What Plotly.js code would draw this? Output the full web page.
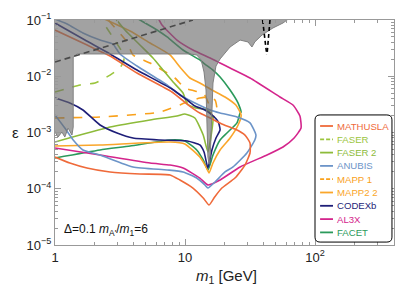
<!DOCTYPE html>
<html><head><meta charset="utf-8">
<script src="https://cdn.plot.ly/plotly-3.0.1.min.js"></script>
<style>html,body{margin:0;padding:0;background:#fff}#c{width:399px;height:290px}</style>
</head><body><div id="c"></div>
<script>
// ---- data (m1 in GeV, epsilon) ----
const names = ["MATHUSLA","FASER","FASER 2","ANUBIS","MAPP 1","MAPP2 2","CODEXb","AL3X","FACET"];
const colors = ["#EF6A3A","#9BC53D","#8DBB3A","#6C94C8","#F9A11B","#FAA62A","#1E1E78","#D4258C","#2B9A5B"];
const dashes = ["solid","dash","solid","solid","dash","solid","solid","solid","solid"];

const mathusla_m = [1,1.30,1.76,2.65,4.5,7.67,9.13,11.5,13.8,15.3,16.9,19.2,24.2,28.9,31.6,31.6,28.9,24.2,19.2,15.6,13.0,10.6,7.93,4.27,2.65,1.70,1];
const mathusla_eps = [3.66e-4,2.87e-4,2.34e-4,1.99e-4,1.83e-4,1.76e-4,1.43e-4,1.03e-4,6.85e-5,5.14e-5,7.13e-5,1.03e-4,1.55e-4,2.64e-4,4.32e-4,6.5e-4,9.0e-4,1.15e-3,1.42e-3,1.81e-3,2.22e-3,3.08e-3,5.25e-3,1.14e-2,2.29e-2,3.74e-2,6.64e-2];

const faser_m = [1,1.56,2.03,2.65,3.16,3.39,3.28,2.94,2.56,2.22];
const faser_eps = [5.25e-3,6.99e-3,7.58e-3,1.05e-2,1.40e-2,1.95e-2,2.70e-2,4.07e-2,6.64e-2,0.109];

const faser2_m = [1,2.65,5.38,8.67,9.97,11.9,13.8,15.0,16.1,16.4,15.0,12.1,10.4,9.65,8.09,6.77,5.67,4.5,3.45,2.89];
const faser2_eps = [6.78e-4,1.25e-3,1.67e-3,1.96e-3,2.13e-3,1.81e-3,9.0e-4,4.5e-4,1.11e-3,1.81e-3,2.51e-3,2.73e-3,3.21e-3,5.04e-3,7.9e-3,1.29e-2,2.11e-2,3.6e-2,6.64e-2,0.109];

const anubis_m = [1,1.19,1.38,1.64,2.22,3.98,7.28,9.65,12.3,14.2,15.0,17.0,20.3,23.4,29.9,34.4,35.1,31.6,25.1,18.6,15.6,11.5,9.13,7.28,4.27,3.16,2.79,2.22,1.64,1.24,1];
const anubis_eps = [2.05e-3,1.2e-3,7.36e-4,4.89e-4,3.98e-4,2.44e-4,2.16e-4,1.99e-4,1.55e-4,1.17e-4,1.03e-4,1.32e-4,1.99e-4,2.44e-4,4.32e-4,7.36e-4,9.0e-4,1.48e-3,1.89e-3,2.22e-3,2.51e-3,3.48e-3,4.64e-3,6.99e-3,1.52e-2,2.49e-2,3.74e-2,4.4e-2,5.88e-2,8.49e-2,0.104];

const mapp1_m = [1,2.22,6.42,10.4,13.0,15.0,17.0,17.6,16.4,15.3,14.0,11.9,9.97,8.35,5.38,3.98,3.58,2.65,2.51];
const mapp1_eps = [1.81e-3,1.89e-3,2.31e-3,3.48e-3,4.1e-3,4.28e-3,3.78e-3,2.51e-3,1.81e-3,3.08e-3,4.83e-3,5.47e-3,6.18e-3,9.31e-3,1.72e-2,2.39e-2,4.07e-2,9.21e-2,0.109];

const mapp2_m = [1,2.22,7.67,9.97,13.0,14.5,15.3,16.4,18.6,22.2,25.6,27.0,24.6,20.3,16.1,13.0,10.9,9.13,7.67,5.38,3.78,2.22];
const mapp2_eps = [5.75e-4,6.0e-4,6.78e-4,6.25e-4,3.66e-4,2.44e-4,1.91e-4,2.87e-4,4.89e-4,7.98e-4,1.36e-3,2.05e-3,3.08e-3,4.28e-3,5.7e-3,7.58e-3,9.31e-3,1.46e-2,2.39e-2,3.9e-2,6.37e-2,0.113];

const codexb_m = [1,1.30,1.64,2.22,3.0,3.98,6.42,10.4,13.0,14.0,15.0,16.1,17.3,18.6,18.0,16.1,14.2,11.9,10.6,7.93,4.27,2.65,1.70,1];
const codexb_eps = [4.1e-3,3.34e-3,2.51e-3,1.36e-3,9.8e-4,7.98e-4,7.36e-4,7.06e-4,6.0e-4,4.5e-4,2.34e-4,4.89e-4,7.98e-4,1.11e-3,1.54e-3,2.05e-3,2.51e-3,2.96e-3,3.63e-3,5.93e-3,1.29e-2,2.49e-2,4.4e-2,8.85e-2];

const al3x_m = [1,2.22,5.38,7.67,9.65,13.0,15.0,18.6,26.5,42.7,56.7,69,78,76.5,67.6,53.7,31.6,22.2,18.6,15.6,11.5,8.67,6.65,6.2];
const al3x_eps = [5.3e-4,3.98e-4,2.87e-4,2.64e-4,2.34e-4,1.55e-4,1.17e-4,1.43e-4,2.44e-4,3.98e-4,5.52e-4,7.98e-4,1.2e-3,1.96e-3,3.08e-3,4.28e-3,9.31e-3,1.40e-2,1.72e-2,2.11e-2,2.93e-2,4.4e-2,8.15e-2,0.109];

const facet_m = [1,2.22,3.78,7.67,9.97,12.3,13.8,15.0,16.4,18.6,21.0,25.1,26.5,27.0,25.6,22.2,18.6,16.4,14.2,13.0,9.65,7.28,6.09,4.5,4.27];
const facet_eps = [3.52e-4,4.89e-4,5.75e-4,7.36e-4,7.06e-4,4.89e-4,3.25e-4,2.16e-4,3.98e-4,7.36e-4,9.8e-4,1.48e-3,2.22e-3,2.31e-3,3.34e-3,5.7e-3,9.7e-3,1.29e-2,1.65e-2,1.95e-2,2.93e-2,4.99e-2,6.64e-2,0.1,0.108];

// excluded region (gray)
const excl_m = [0.95,0.95,1.055,1.13,1.19,1.26,1.35,1.38,1.38,1.48,10.9,12.3,13.3,14.0,14.5,14.7,15.0,15.3,15.6,15.8,16.1,16.4,17.3,18.6,22.2,26.5,30.5,32.7,34.4,39.1,47.4,56.7,64,64];
const excl_eps = [0.12,1.25e-3,8.3e-4,1.02e-3,8.3e-4,1.2e-3,9.0e-4,1.25e-3,2.2e-2,2.49e-2,2.49e-2,2.39e-2,1.95e-2,1.19e-2,5.7e-3,1.48e-3,3.66e-4,2.75e-4,3.66e-4,7.36e-4,2.84e-3,7.58e-3,1.52e-2,2.03e-2,3.31e-2,4.4e-2,4.07e-2,3.31e-2,4.07e-2,5.41e-2,7.21e-2,8.85e-2,0.109,0.12];

const gdash_m = [1, 11.5];
const gdash_eps = [0.0179, 0.1];
const bdashL_m = [39.5, 42.5];
const bdashL_eps = [0.1, 0.024];
const bdashR_m = [45, 42.7];
const bdashR_eps = [0.1, 0.024];

const xTickVals = [1,10,100];
const xTickText = ["1","10","10<sup>2</sup>"];
const yTickVals = [1e-5,1e-4,1e-3,1e-2,1e-1];
const yTickText = ["10<sup>−5</sup>","10<sup>−4</sup>","10<sup>−3</sup>","10<sup>−2</sup>","10<sup>−1</sup>"];

const series = [
  [mathusla_m, mathusla_eps],[faser_m, faser_eps],[faser2_m, faser2_eps],[anubis_m, anubis_eps],
  [mapp1_m, mapp1_eps],[mapp2_m, mapp2_eps],[codexb_m, codexb_eps],[al3x_m, al3x_eps],[facet_m, facet_eps]
];

const traces = [];
const order = [8,7,5,4,2,1,3,6,0];
order.forEach(i => {
  traces.push({x: series[i][0], y: series[i][1], mode:'lines', name: names[i], showlegend:false,
    line:{color: colors[i], width:1.6, dash: dashes[i], shape:'spline', smoothing:0.5}, hoverinfo:'skip'});
});
traces.push({x: excl_m, y: excl_eps, mode:'lines', fill:'toself', fillcolor:'rgba(105,105,105,0.62)',
  line:{color:'#808080', width:1}, showlegend:false, hoverinfo:'skip'});
traces.push({x: gdash_m, y: gdash_eps, mode:'lines', line:{color:'#4a4a4a', width:1.6, dash:'6px,4px'}, showlegend:false, hoverinfo:'skip'});
[[bdashL_m,bdashL_eps],[bdashR_m,bdashR_eps]].forEach(s => {
  traces.push({x: s[0], y: s[1], mode:'lines', line:{color:'#000', width:1.6, dash:'4px,3px'}, showlegend:false, hoverinfo:'skip'});
});

// legend box (manual)
const L = {x0:0.767, x1:0.994, y0:0.013, y1:0.578, rx:0.015, ry:0.022};
const boxPath = `M ${L.x0+L.rx},${L.y0} L ${L.x1-L.rx},${L.y0} Q ${L.x1},${L.y0} ${L.x1},${L.y0+L.ry} L ${L.x1},${L.y1-L.ry} Q ${L.x1},${L.y1} ${L.x1-L.rx},${L.y1} L ${L.x0+L.rx},${L.y1} Q ${L.x0},${L.y1} ${L.x0},${L.y1-L.ry} L ${L.x0},${L.y0+L.ry} Q ${L.x0},${L.y0} ${L.x0+L.rx},${L.y0} Z`;
const shapes = [{type:'path', xref:'paper', yref:'paper', path: boxPath, line:{color:'#000', width:1}, fillcolor:'#fff', layer:'above'}];
const annotations = [];
names.forEach((n,i) => {
  const yp = (245 - (126 + 13.3*i)) / 225;
  shapes.push({type:'line', xref:'paper', yref:'paper', x0:0.782, x1:0.820, y0:yp, y1:yp,
    line:{color:colors[i], width:1.8, dash: dashes[i]==='dash' ? '4px,2px' : 'solid'}, layer:'above'});
  annotations.push({xref:'paper', yref:'paper', x:0.826, y:yp, xanchor:'left', yanchor:'middle', showarrow:false,
    text:n, font:{size:9.6, color:colors[i], family:'Liberation Sans, Arial, sans-serif'}});
});
annotations.push({xref:'paper', yref:'paper', x:-0.133, y:0.498, showarrow:false, text:'ε',
  font:{size:15, color:'#222', family:'Liberation Sans, Arial, sans-serif'}});
annotations.push({xref:'paper', yref:'paper', x:0.507, y:-0.142, yanchor:'middle', showarrow:false,
  text:'<i>m</i><sub>1</sub> [GeV]', font:{size:15, color:'#222', family:'Liberation Sans, Arial, sans-serif'}});
annotations.push({xref:'paper', yref:'paper', x:0.022, y:0.067, xanchor:'left', yanchor:'middle', showarrow:false,
  text:"Δ=0.1 <i>m</i><sub>A'</sub>/<i>m</i><sub>1</sub>=6", font:{size:12, color:'#111', family:'Liberation Sans, Arial, sans-serif'}});

const minorX = [2,3,4,5,6,7,8,9,20,30,40,50,60,70,80,90,200,300,400];
const minorY = [];
[1e-5,1e-4,1e-3,1e-2].forEach(d => { for (let k=2;k<=9;k++) minorY.push(k*d); });

const axisCommon = {showgrid:false, zeroline:false, showline:true, linecolor:'#999', linewidth:1,
  mirror:'allticks', ticks:'inside', ticklen:6, tickcolor:'#999', tickwidth:1,
  tickfont:{size:13, color:'#222', family:'Liberation Sans, Arial, sans-serif'}};

const layout = {
  width:399, height:290, margin:{l:55, r:5, t:20, b:45},
  paper_bgcolor:'#fff', plot_bgcolor:'#fff', showlegend:false,
  xaxis: Object.assign({}, axisCommon, {type:'log', range:[0, 2.607], tickmode:'array', tickvals:xTickVals, ticktext:xTickText,
    minor:{tickmode:'array', tickvals:minorX, ticks:'inside', ticklen:3, tickcolor:'#999', showgrid:false}}),
  yaxis: Object.assign({}, axisCommon, {type:'log', range:[-5, -1], tickmode:'array', tickvals:yTickVals, ticktext:yTickText,
    minor:{tickmode:'array', tickvals:minorY, ticks:'inside', ticklen:3, tickcolor:'#999', showgrid:false}}),
  shapes: shapes, annotations: annotations
};
Plotly.newPlot('c', traces, layout, {staticPlot:true, displayModeBar:false});
</script></body></html>
